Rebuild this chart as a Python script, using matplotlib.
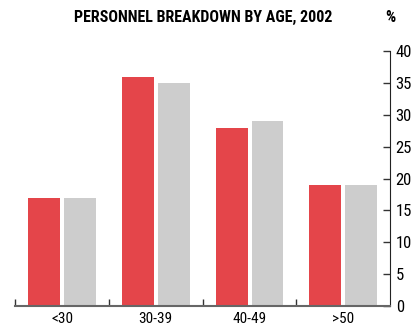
import numpy as np
import matplotlib
matplotlib.use('Agg')
import matplotlib.pyplot as plt

# Personnel by age group, two series (percent)
groups = ['<30', '30-39', '40-49', '>50']
series_red = [17, 36, 28, 19]
series_grey = [17, 35, 29, 19]
yticks = [0, 5, 10, 15, 20, 25, 30, 35, 40]

plt.rcParams['font.family'] = ['Roboto Condensed', 'Archivo Narrow', 'DejaVu Sans']

fig = plt.figure(figsize=(4.2, 3.27), dpi=100)
ax = fig.add_axes([0.036, 0.064, 0.893, 0.78])

x = np.arange(len(groups))
w = 0.34
gap = 0.043
ax.bar(x - (w + gap) / 2, series_red, width=w, color='#e4454a')
ax.bar(x + (w + gap) / 2, series_grey, width=w, color='#cdcdcd')

ax.set_xlim(-0.5, len(groups) - 0.5)
ax.set_ylim(0, 40)

# category labels centred, tick marks on the boundaries
ax.set_xticks(x)
ax.set_xticklabels(groups, fontsize=11)
ax.tick_params(axis='x', which='major', length=0, pad=4)
ax.set_xticks(np.arange(len(groups)) - 0.5, minor=True)
ax.tick_params(axis='x', which='minor', direction='in', length=5, width=1, color='#333333')

ax.yaxis.tick_right()
ax.set_yticks(yticks)
ax.tick_params(axis='y', direction='in', length=5, width=1, labelsize=12, pad=4, color='#333333')

for s in ['top', 'left']:
    ax.spines[s].set_visible(False)
ax.spines['right'].set_color('#222222')
ax.spines['bottom'].set_color('#666666')
ax.spines['bottom'].set_linewidth(1.5)

fig.text(0.484, 0.946, 'PERSONNEL BREAKDOWN BY AGE, 2002', ha='center', va='center',
         fontsize=11.5, fontweight='bold')
fig.text(0.93, 0.946, '%', ha='center', va='center', fontsize=11.5, fontweight='bold')

fig.savefig('out.png', dpi=100)
